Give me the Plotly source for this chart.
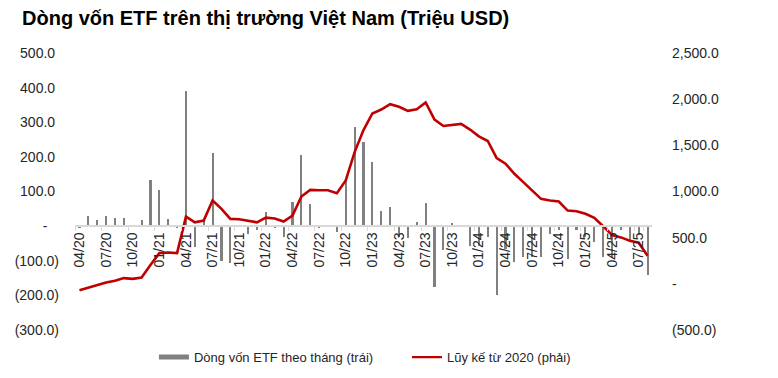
import plotly.graph_objects as go

# ---------------- data ----------------
months = [
    "04/20", "05/20", "06/20", "07/20", "08/20", "09/20", "10/20", "11/20", "12/20",
    "01/21", "02/21", "03/21", "04/21", "05/21", "06/21", "07/21", "08/21", "09/21",
    "10/21", "11/21", "12/21", "01/22", "02/22", "03/22", "04/22", "05/22", "06/22",
    "07/22", "08/22", "09/22", "10/22", "11/22", "12/22", "01/23", "02/23", "03/23",
    "04/23", "05/23", "06/23", "07/23", "08/23", "09/23", "10/23", "11/23", "12/23",
    "01/24", "02/24", "03/24", "04/24", "05/24", "06/24", "07/24", "08/24", "09/24",
    "10/24", "11/24", "12/24", "01/25", "02/25", "03/25", "04/25", "05/25", "06/25",
    "07/25", "08/25",
]

monthly_flow = [
    -3, 29, 17, 29, 23, 23, -2, 17, 133,
    105, 20, -3, 391, -60, 15, 212, -100, -106,
    -2, -22, -11, 40, -3, -31, 70, 205, 63,
    -3, -2, -16, 130, 287, 243, 185, 45, 55,
    -32, -34, 13, 66, -177, -68, 8, 2, -58,
    -58, -31, -198, -65, -105, -90, -90, -88, -22,
    -12, -96, -10, -30, -45, -90, -92, -12, -45,
    -25, -140,
]

cumulative = [
    -69, -40, -15, 14, 33, 62, 54, 69, 203,
    333, 340, 333, 728, 666, 685, 902, 812, 703,
    699, 681, 666, 717, 708, 674, 739, 946, 1018,
    1014, 1014, 982, 1120, 1427, 1665, 1845, 1888, 1946,
    1917, 1873, 1891, 1964, 1779, 1710, 1721, 1732, 1671,
    1598, 1547, 1362, 1301, 1192, 1101, 1011, 920, 902,
    891, 793, 786, 758, 714, 623, 529, 503, 467,
    445, 304,
]

x_tick_labels = [
    "04/20", "07/20", "10/20", "01/21", "04/21", "07/21", "10/21", "01/22",
    "04/22", "07/22", "10/22", "01/23", "04/23", "07/23", "10/23", "01/24",
    "04/24", "07/24", "10/24", "01/25", "04/25", "07/25",
]

left_ticks = [-300, -200, -100, 0, 100, 200, 300, 400, 500]
left_tick_text = ["(300.0)", "(200.0)", "(100.0)", "-\u00a0\u00a0\u00a0",
                  "100.0\u00a0", "200.0\u00a0", "300.0\u00a0", "400.0\u00a0", "500.0\u00a0"]
right_ticks = [-500, 0, 500, 1000, 1500, 2000, 2500]
right_tick_text = ["(500.0)", "-", "500.0", "1,000.0", "1,500.0", "2,000.0", "2,500.0"]

title_text = "Dòng vốn ETF trên thị trường Việt Nam (Triệu USD)"
bar_name = "Dòng vốn ETF theo tháng (trái)"
line_name = "Lũy kế từ 2020 (phải)"

BAR_COLOR = "#808080"
LINE_COLOR = "#C00000"
TEXT_COLOR = "#262626"
FONT = "Liberation Sans, Arial, sans-serif"

# page body has an 8px margin, so the figure is sized to fit the window
W, H = 770, 370

# ---------------- figure ----------------
fig = go.Figure()

fig.add_trace(go.Bar(
    x=months, y=monthly_flow, name=bar_name,
    marker=dict(color=BAR_COLOR, line=dict(width=0)),
    width=0.24, showlegend=False, yaxis="y", xaxis="x",
))

fig.add_trace(go.Scatter(
    x=months, y=cumulative, name=line_name, mode="lines",
    line=dict(color=LINE_COLOR, width=2.6), yaxis="y2", xaxis="x",
    showlegend=False,
))

# legend entries
fig.add_trace(go.Scatter(
    x=[None], y=[None], mode="lines", name=bar_name,
    line=dict(color=BAR_COLOR, width=5), showlegend=True,
))
fig.add_trace(go.Scatter(
    x=[None], y=[None], mode="lines", name=line_name,
    line=dict(color=LINE_COLOR, width=2.2), showlegend=True,
))

ML, MR, MT, MB = 67, 125.6, 45.3, 48
plot_w = W - ML - MR

fig.update_layout(
    width=W, height=H,
    margin=dict(l=ML, r=MR, t=MT, b=MB, autoexpand=False),
    paper_bgcolor="white", plot_bgcolor="white",
    font=dict(family=FONT, size=14, color=TEXT_COLOR),
    bargap=0,
    title=dict(
        text=f"<b>{title_text}</b>",
        font=dict(family="Liberation Sans, Arial, sans-serif", size=20, color="#000000"),
        x=14 / W, xanchor="left", xref="container",
        y=1 - 3 / H, yanchor="top", yref="container",
    ),
    xaxis=dict(
        type="category",
        categoryorder="array", categoryarray=months,
        range=[-0.5, len(months) - 0.5],
        tickmode="array", tickvals=x_tick_labels, ticktext=x_tick_labels,
        tickangle=-90, tickson="boundaries",
        ticks="outside", ticklen=4, tickcolor="#D9D9D9", tickwidth=1,
        showline=True, linecolor="#D9D9D9", linewidth=1.5,
        showgrid=False, zeroline=False,
        anchor="free", position=300 / 800,
        tickfont=dict(size=14, color=TEXT_COLOR),
    ),
    yaxis=dict(
        range=[-300, 500], tickmode="array", tickvals=left_ticks, ticktext=left_tick_text,
        showgrid=False, zeroline=False, showline=False, ticks="",
        ticklabelstandoff=15,
        tickfont=dict(size=14, color=TEXT_COLOR),
    ),
    yaxis2=dict(
        range=[-500, 2500], tickmode="array", tickvals=right_ticks, ticktext=right_tick_text,
        overlaying="y", side="right", anchor="x",
        showgrid=False, zeroline=False, showline=False, ticks="",
        ticklabelstandoff=19,
        tickfont=dict(size=14, color=TEXT_COLOR),
    ),
    legend=dict(
        orientation="h", x=(146 - ML) / plot_w, xanchor="left",
        y=-0.098, yanchor="middle",
        font=dict(size=13, color=TEXT_COLOR),
        entrywidth=208, entrywidthmode="pixels",
        bgcolor="rgba(0,0,0,0)", borderwidth=0,
    ),
)

fig.write_html("out.html")
